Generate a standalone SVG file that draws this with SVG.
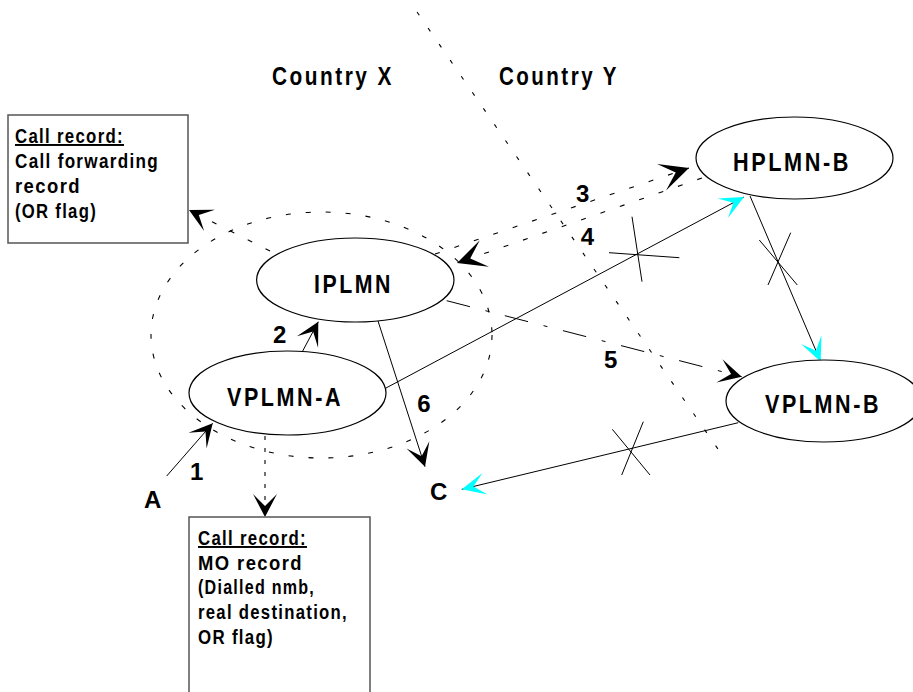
<svg xmlns="http://www.w3.org/2000/svg" width="913" height="692" viewBox="0 0 913 692">
<defs>
<style>
text{font-family:"Liberation Sans",Arial,sans-serif;font-weight:bold;fill:#000}
.node{fill:#fff;stroke:#000;stroke-width:1.2}
.lbl{font-size:25px;letter-spacing:3px}
.num{font-size:24px}
.box{fill:#fff;stroke:#555;stroke-width:1.5}
.btxt{font-size:19.5px;letter-spacing:1.5px}
.ln{fill:none;stroke:#000;stroke-width:1}
.dot{fill:none;stroke:#000;stroke-width:1.1;stroke-dasharray:4 15.5}
.dash5{fill:none;stroke:#000;stroke-width:1;stroke-dasharray:24 16 4 16}
.vdot{fill:none;stroke:#000;stroke-width:1.1;stroke-dasharray:4 8}
.x{stroke:#000;stroke-width:1}
</style>
<marker id="ah" viewBox="-32 -16 34 32" markerWidth="34" markerHeight="32" refX="0" refY="0" orient="auto" markerUnits="userSpaceOnUse">
<path d="M0,0 L-23,-12 L-11,0 L-23,12 Z" fill="#000"/>
</marker>
<marker id="ahb" viewBox="-32 -16 34 32" markerWidth="34" markerHeight="32" refX="0" refY="0" orient="auto" markerUnits="userSpaceOnUse">
<path d="M0,0 L-29,-14 L-14,0 L-29,14 Z" fill="#000"/>
</marker>
<marker id="ahc" viewBox="-32 -16 34 32" markerWidth="34" markerHeight="32" refX="0" refY="0" orient="auto" markerUnits="userSpaceOnUse">
<path d="M0,0 L-24,-11 L-12,0 L-24,11 Z" fill="#00ffff"/>
</marker>
</defs>
<rect width="913" height="692" fill="#fff"/>

<g id="regions">
<line class="dot" x1="417" y1="12" x2="720" y2="452"/>
<ellipse cx="321.5" cy="335" rx="170.5" ry="123" fill="none" stroke="#000" stroke-width="1.1" stroke-dasharray="5 15"/>
<text class="lbl" x="272" y="85" textLength="122" lengthAdjust="spacingAndGlyphs">Country X</text>
<text class="lbl" x="499" y="85" textLength="120" lengthAdjust="spacingAndGlyphs">Country Y</text>
</g>

<g id="connectors">
<line class="ln" x1="166.7" y1="476" x2="212.7" y2="423.3" marker-end="url(#ah)"/>
<line class="ln" x1="302.3" y1="351.7" x2="318.3" y2="321.7" marker-end="url(#ah)"/>
<line class="dot" x1="435" y1="254" x2="689" y2="168" marker-end="url(#ahb)" style="stroke-dasharray:5 15.5"/>
<line class="dot" x1="702" y1="178" x2="457" y2="263" marker-end="url(#ahb)" style="stroke-dasharray:5 15.5"/>
<line class="dash5" x1="446.7" y1="300.7" x2="741.7" y2="376.7" marker-end="url(#ah)"/>
<line class="ln" x1="378" y1="321" x2="425" y2="466.7" marker-end="url(#ah)"/>
<line class="dot" x1="270" y1="251" x2="189" y2="210" marker-end="url(#ah)" style="stroke-dasharray:5 15"/>
<line class="vdot" x1="265" y1="436" x2="265" y2="517" marker-end="url(#ah)"/>
<line class="ln" x1="386" y1="388" x2="744" y2="197" marker-end="url(#ahc)"/>
<line class="ln" x1="750" y1="196" x2="820.7" y2="361.7" marker-end="url(#ahc)"/>
<line class="ln" x1="738.3" y1="422.7" x2="461.7" y2="489.3" marker-end="url(#ahc)"/>
<g id="crosses">
<line class="x" x1="632" y1="216.7" x2="642" y2="281.7"/>
<line class="x" x1="609" y1="252.7" x2="679.3" y2="257.7"/>
<line class="x" x1="790.7" y1="232.7" x2="768" y2="285"/>
<line class="x" x1="759.3" y1="240" x2="797.3" y2="285"/>
<line class="x" x1="643.3" y1="421.7" x2="621.7" y2="475"/>
<line class="x" x1="612.3" y1="429.3" x2="650" y2="475"/>
</g>
<g id="connector-labels">
<text class="num" x="190" y="480">1</text>
<text class="num" x="273" y="343.3">2</text>
<text class="num" x="576" y="201.7">3</text>
<text class="num" x="580.7" y="245">4</text>
<text class="num" x="604" y="368.3">5</text>
<text class="num" x="417.3" y="411.7">6</text>
</g>
</g>

<g id="IPLMN">
<ellipse class="node" cx="355.3" cy="280" rx="98.7" ry="42"/>
<text class="lbl" x="314" y="292.5" textLength="79" lengthAdjust="spacingAndGlyphs">IPLMN</text>
</g>
<g id="VPLMN-A">
<ellipse class="node" cx="287.5" cy="393" rx="98.5" ry="42"/>
<text class="lbl" x="227" y="405.5" textLength="116" lengthAdjust="spacingAndGlyphs">VPLMN-A</text>
</g>
<g id="HPLMN-B">
<ellipse class="node" cx="794.5" cy="158" rx="98.5" ry="41"/>
<text class="lbl" x="733" y="171" textLength="118" lengthAdjust="spacingAndGlyphs">HPLMN-B</text>
</g>
<g id="VPLMN-B">
<ellipse class="node" cx="824" cy="401" rx="98" ry="41"/>
<text class="lbl" x="765" y="412.5" textLength="116" lengthAdjust="spacingAndGlyphs">VPLMN-B</text>
</g>
<g id="A">
<text class="num" x="144" y="508.3">A</text>
</g>
<g id="C">
<text class="num" x="430" y="500">C</text>
</g>

<g id="record-box-1">
<rect class="box" x="8" y="115" width="180" height="128"/>
<text class="btxt" x="15" y="143" textLength="109" lengthAdjust="spacingAndGlyphs" text-decoration="underline">Call record:</text>
<text class="btxt" x="15" y="168" textLength="144" lengthAdjust="spacingAndGlyphs">Call forwarding</text>
<text class="btxt" x="15" y="193" textLength="66" lengthAdjust="spacingAndGlyphs">record</text>
<text class="btxt" x="15" y="218" textLength="82" lengthAdjust="spacingAndGlyphs">(OR flag)</text>
</g>
<g id="record-box-2">
<rect class="box" x="189" y="517" width="181" height="190"/>
<text class="btxt" x="198" y="545" textLength="109" lengthAdjust="spacingAndGlyphs" text-decoration="underline">Call record:</text>
<text class="btxt" x="198" y="570" textLength="105" lengthAdjust="spacingAndGlyphs">MO record</text>
<text class="btxt" x="198" y="594" textLength="117" lengthAdjust="spacingAndGlyphs">(Dialled nmb,</text>
<text class="btxt" x="198" y="619" textLength="150" lengthAdjust="spacingAndGlyphs">real destination,</text>
<text class="btxt" x="198" y="644" textLength="76" lengthAdjust="spacingAndGlyphs">OR flag)</text>
</g>
</svg>
